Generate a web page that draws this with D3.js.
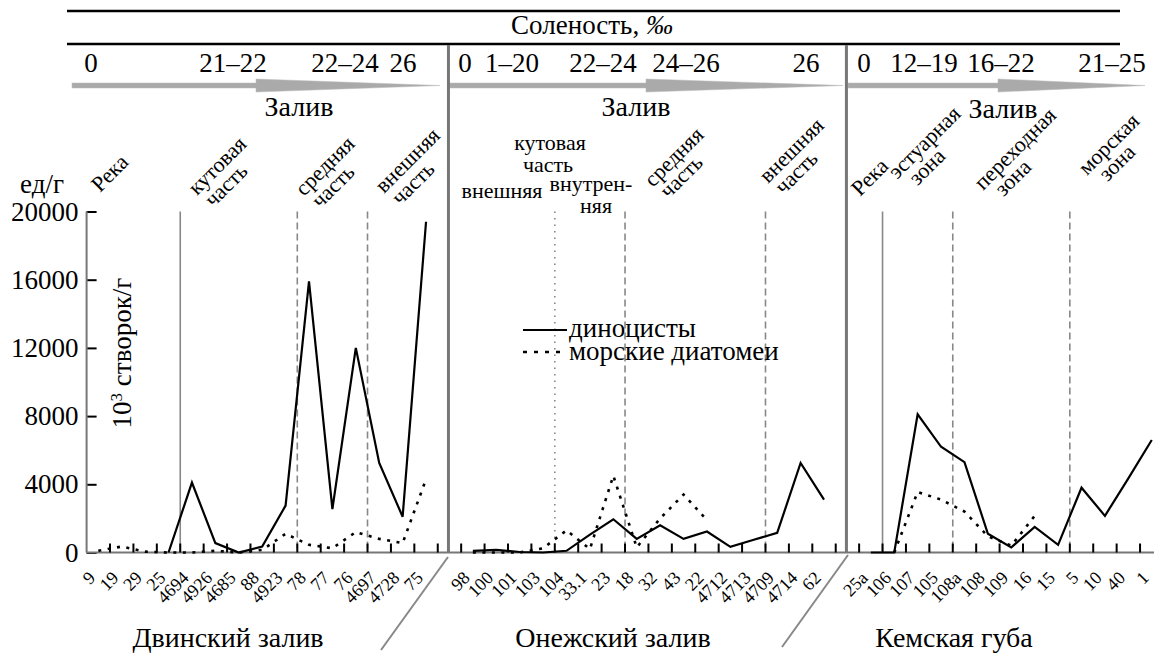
<!DOCTYPE html>
<html><head><meta charset="utf-8">
<script src="https://cdn.jsdelivr.net/npm/d3@7"></script>
</head>
<body style="margin:0;padding:0;background:#fff;">
<svg id="chart" width="1154" height="655" style="display:block;"></svg>
<script>
// ---------- DATA ----------
const dvinaStations = ["9","19","29","25","4694","4926","4685","88","4923","78","77","76","4697","4728","75"];
const onegaStations = ["98","100","101","103","104","33.1","23","18","32","43","22","4712","4713","4709","4714","62"];
const kemStations   = ["25а","106","107","105","108а","108","109","16","15","5","10","40","1"];

const dvinaDinocysts = [null,null,null,0,4100,550,0,350,2750,15900,2550,12000,5250,2100,19400];
const dvinaDiatoms   = [100,350,50,0,0,100,0,150,1100,450,250,1200,800,550,4300];
const onegaDinocysts = [100,150,30,0,100,1050,1950,800,1600,800,1230,330,750,1150,5250,3100];
const onegaDiatoms   = [0,0,0,250,1300,200,4500,300,2000,3400,1900,null,null,null,null,null];
const kemDinocysts   = [0,0,8100,6200,5300,1100,300,1500,450,3800,2150,4350,6600];
const kemDiatoms     = [null,0,3550,3100,2400,950,400,2150,null,null,null,null,null];

const yTicks = [0,4000,8000,12000,16000,20000];

const bayNames = ["Двинский залив","Онежский залив","Кемская губа"];
const salinityDvina = ["0","21–22","22–24","26"];
const salinityOnega = ["0","1–20","22–24","24–26","26"];
const salinityKem   = ["0","12–19","16–22","21–25"];

// ---------- LAYOUT ----------
const FAM = "Liberation Serif";
const svg = d3.select("#chart");
const FONT_BIG = 27, FONT_ZONE = 22, FONT_CAT = 18;
const x0 = 86.6, step = 23.41;
function T(parent){ return parent.append("text").attr("font-family",FAM).style("font-family",'"'+FAM+'"'); }

const slots = [
  ...dvinaStations.map(s=>"D:"+s), "gap1",
  ...onegaStations.map(s=>"O:"+s), "gap2",
  ...kemStations.map(s=>"K:"+s)
];
const x = d3.scaleBand().domain(slots).range([x0, x0 + slots.length*step]).padding(0);
const cx = k => x(k) + x.bandwidth()/2;
const y = d3.scaleLinear().domain([0,20000]).range([552.5, 211.5]);

// header lines
svg.append("line").attr("x1",67).attr("x2",1120).attr("y1",11).attr("y2",11).attr("stroke","#000").attr("stroke-width",2.5);
svg.append("line").attr("x1",67).attr("x2",1120).attr("y1",44).attr("y2",44).attr("stroke","#000").attr("stroke-width",2.5);
T(svg).attr("x",592).attr("y",34).attr("text-anchor","middle").attr("font-size",FONT_BIG)
  .call(t=>{t.append("tspan").text("Соленость, "); t.append("tspan").attr("font-style","italic").text("‰");});

// salinity numbers
const salPos = [
  [salinityDvina,[91,233,345,403]],
  [salinityOnega,[465,512,603,686,806]],
  [salinityKem,[864,924,1001,1112]]
];
salPos.forEach(([labels,xs])=>{
  labels.forEach((l,i)=>T(svg).attr("x",xs[i]).attr("y",72).attr("text-anchor","middle")
    .attr("font-size",FONT_BIG).text(l));
});

// arrows
function arrow(xStart, xMid, xEnd){
  svg.append("path")
    .attr("d",`M${xStart},83 L${xMid},83 L${xMid},79 L${xEnd},85.5 L${xMid},92 L${xMid},88 L${xStart},88 Z`)
    .attr("fill","#aaa").attr("stroke","#bbb").attr("stroke-width",0.5);
}
arrow(72,256,440);
arrow(448,646,843);
arrow(848,998,1145);

// "Залив"
[[299,116],[636,116],[1003,118]].forEach(([a,b])=>T(svg).attr("x",a).attr("y",b)
  .attr("text-anchor","middle").attr("font-size",FONT_BIG+1).text("Залив"));

// zone labels (rotated)
function rotLabel(px,py,lines,dx2,dy2){
  const t = T(svg).attr("font-size",FONT_ZONE)
    .attr("transform",`translate(${px},${py}) rotate(-45)`);
  lines.forEach((l,i)=>t.append("tspan").attr("x",i?dx2:0).attr("y",i?dy2:0).text(l));
}
rotLabel(100,193,["Река"]);
rotLabel(197,196,["кутовая","часть"],3,20);
rotLabel(304,197,["средняя","часть"],3,20);
rotLabel(384,194,["внешняя","часть"],3,20);
rotLabel(653,188,["средняя","часть"],3,19);
rotLabel(768,184,["внешняя","часть"],3,19);
rotLabel(860,197,["Река"]);
rotLabel(897,180,["эстуарная","зона"],10,19);
rotLabel(983,191,["переходная","зона"],10,19);
rotLabel(1087,176,["морская","зона"],10,19);

// Onega horizontal zone labels
[["кутовая",550,150],["часть",548,172],["внешняя",502,198],["внутрен-",591,191],["няя",596,213]]
  .forEach(([t,a,b])=>T(svg).attr("x",a).attr("y",b).attr("text-anchor","middle")
  .attr("font-size",FONT_ZONE).text(t));

// "ед/г"
T(svg).attr("x",42).attr("y",193).attr("text-anchor","middle").attr("font-size",FONT_BIG).text("ед/г");

// y axis
const yAxis = d3.axisLeft(y).tickValues(yTicks).tickSize(-10).tickPadding(8).tickFormat(d3.format("d"));
const gy = svg.append("g").attr("transform",`translate(${x0},0)`).call(yAxis).attr("font-family",FAM);
gy.select(".domain").remove();
gy.selectAll(".tick line").attr("stroke","#000").attr("stroke-width",2);
gy.selectAll(".tick text").attr("font-size",FONT_BIG).attr("fill","#000").attr("font-family",FAM).style("font-family",'"'+FAM+'"');
svg.append("line").attr("x1",x0).attr("x2",x0).attr("y1",y(20000)).attr("y2",y(0)).attr("stroke","#777").attr("stroke-width",2);

// y label
T(svg).attr("transform",`translate(131,353) rotate(-90)`).attr("text-anchor","middle").attr("font-size",FONT_BIG)
  .call(t=>{t.append("tspan").text("10"); t.append("tspan").attr("baseline-shift","super").attr("font-size",17).text("3");
            t.append("tspan").text(" створок/г");});

// zone boundary lines
const zoneLines = [
  ["D:4694","solid"],["D:78","dash"],["D:4697","dash"],
  ["O:104","dot"],["O:18","dash"],["O:4709","dash"],
  ["K:106","solid"],["K:108а","dash"],["K:5","dash"]
];
zoneLines.forEach(([k,s])=>{
  const l = svg.append("line").attr("x1",x(k)).attr("x2",x(k)).attr("y1",y(20000)).attr("y2",y(0))
    .attr("stroke","#888").attr("stroke-width",1.6);
  if(s==="dash") l.attr("stroke-dasharray","7,4");
  if(s==="dot") l.attr("stroke-dasharray","1.5,5");
});

// panel dividers
["gap1","gap2"].forEach(k=>{
  svg.append("line").attr("x1",cx(k)-1).attr("x2",cx(k)-1).attr("y1",45).attr("y2",y(0))
    .attr("stroke","#777").attr("stroke-width",3);
});

// bottom axis line + ticks
svg.append("line").attr("x1",x0).attr("x2",1154).attr("y1",y(0)).attr("y2",y(0)).attr("stroke","#777").attr("stroke-width",2.2);
svg.append("g").selectAll("line").data(slots).join("line")
  .attr("x1",d=>x(d)+x.bandwidth()).attr("x2",d=>x(d)+x.bandwidth())
  .attr("y1",y(0)).attr("y2",y(0)-9).attr("stroke","#000").attr("stroke-width",2);

// category labels
const allCats = [
  ...dvinaStations.map(s=>["D:"+s,s]),
  ...onegaStations.map(s=>["O:"+s,s]),
  ...kemStations.map(s=>["K:"+s,s])
];
svg.append("g").selectAll("text").data(allCats).join("text")
  .attr("font-family",FAM).style("font-family",'"'+FAM+'"')
  .attr("transform",d=>`translate(${cx(d[0])-2},579) rotate(-45)`)
  .attr("text-anchor","end").attr("font-size",FONT_CAT).text(d=>d[1]);

// diagonal separators
svg.append("line").attr("x1",448).attr("y1",557).attr("x2",381).attr("y2",650).attr("stroke","#888").attr("stroke-width",2);
svg.append("line").attr("x1",848).attr("y1",555).attr("x2",782).attr("y2",647).attr("stroke","#888").attr("stroke-width",2);

// bay names
[[228,bayNames[0]],[613,bayNames[1]],[954,bayNames[2]]].forEach(([a,t])=>
  T(svg).attr("x",a).attr("y",647).attr("text-anchor","middle").attr("font-size",FONT_BIG+1).text(t));

// data lines
const line = d3.line().defined(d=>d.v!==null).x(d=>cx(d.k)).y(d=>y(d.v));
function series(prefix, stations, vals){ return stations.map((s,i)=>({k:prefix+s, v:vals[i]})); }
const solidSets = [series("D:",dvinaStations,dvinaDinocysts),series("O:",onegaStations,onegaDinocysts),series("K:",kemStations,kemDinocysts)];
const dotSets = [series("D:",dvinaStations,dvinaDiatoms),series("O:",onegaStations,onegaDiatoms),series("K:",kemStations,kemDiatoms)];
dotSets.forEach(d=>svg.append("path").attr("d",line(d)).attr("fill","none").attr("stroke","#000")
  .attr("stroke-width",2.6).attr("stroke-dasharray","3,6.5"));
solidSets.forEach(d=>svg.append("path").attr("d",line(d)).attr("fill","none").attr("stroke","#000")
  .attr("stroke-width",2.2).attr("stroke-linejoin","miter"));

// legend
svg.append("line").attr("x1",523).attr("x2",567).attr("y1",330).attr("y2",330).attr("stroke","#000").attr("stroke-width",2.2);
svg.append("line").attr("x1",523).attr("x2",567).attr("y1",352).attr("y2",352).attr("stroke","#000").attr("stroke-width",2.4).attr("stroke-dasharray","4,7");
T(svg).attr("x",569).attr("y",337).attr("font-size",FONT_BIG).text("диноцисты");
T(svg).attr("x",569).attr("y",360).attr("font-size",FONT_BIG).text("морские диатомеи");
</script>
</body></html>
